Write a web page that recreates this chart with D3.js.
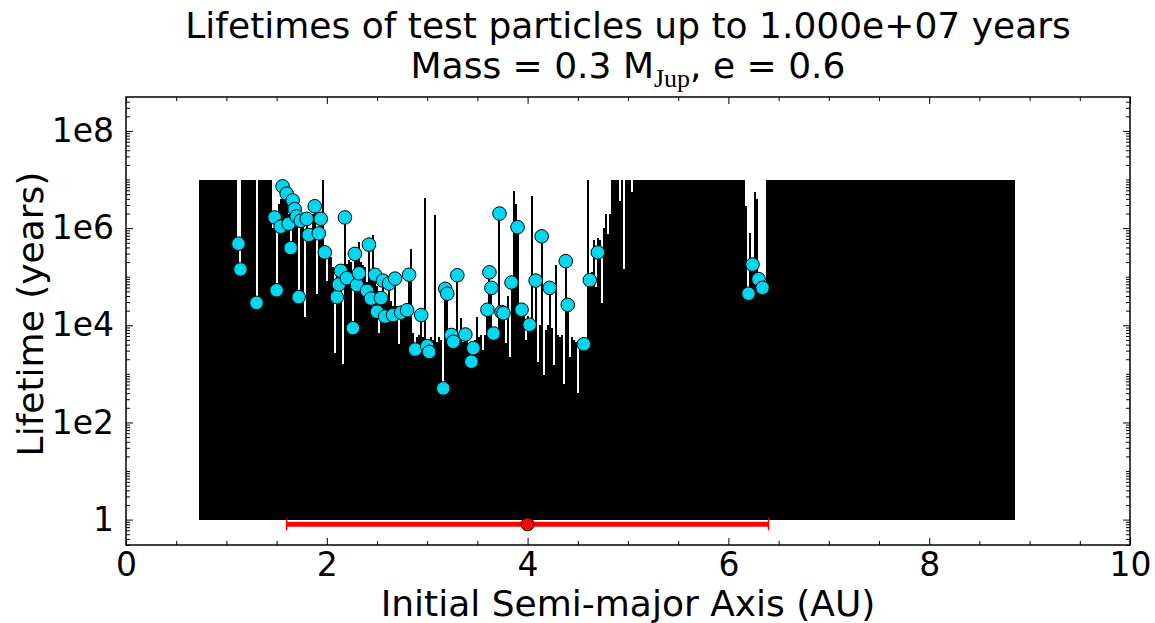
<!DOCTYPE html>
<html>
<head>
<meta charset="utf-8">
<script src="https://cdn.jsdelivr.net/npm/d3@7/dist/d3.min.js"></script>
<style>
  html, body { margin: 0; padding: 0; background: #fff; }
  svg { display: block; font-family: "DejaVu Sans", sans-serif; }
</style>
</head>
<body>
<div id="chart"></div>
<script>
// test particle grid (initial semi-major axis, AU) and integration length
const aMin = 0.74, aMax = 8.84, aStep = 0.02;
const tEnd = 1e7;

// log10 lifetime of every particle in the unstable zone, from chaosStart upwards
const chaosStart = 1.46;
const chaosLogT = [
  6.0, 6.22, 4.72, 6.5, 6.6, 6.86, 6.7, 6.71, 6.3, 5.59,
  6.57, 6.39, 6.24, 4.58, 6.15, 6.1, 4.17, 6.19, 5.86, 6.0,
  6.3, 6.45, 4.65, 5.89, 6.19, 7.0, 5.5, 4.92, 5.6, 5.4,
  5.2, 3.42, 5.1, 5.15, 5.12, 3.21, 6.22, 5.27, 5.35, 5.3,
  3.94, 5.47, 5.4, 5.72, 5.3, 5.25, 5.2, 4.9, 5.66, 5.0,
  5.85, 5.04, 4.8, 3.85, 4.7, 4.92, 4.6, 4.55, 4.86, 4.5,
  4.4, 4.96, 4.4, 3.62, 4.3, 4.25, 4.2, 4.31, 5.04, 5.56,
  3.85, 3.6, 3.75, 3.8, 4.21, 3.75, 6.63, 3.7, 3.6, 3.75,
  3.7, 6.26, 3.65, 3.75, 3.7, 2.70, 3.7, 3.75, 3.7, 3.8,
  3.7, 3.65, 5.03, 3.7, 4.14, 3.65, 3.81, 3.7, 3.6, 3.65,
  3.53, 3.7, 4.17, 3.75, 3.8, 3.5, 3.8, 4.32, 5.09, 4.77,
  3.83, 3.8, 3.75, 6.30, 4.27, 4.25, 3.64, 4.6, 3.34, 4.88,
  6.77, 6.5, 6.02, 4.4, 4.32, 4.3, 3.69, 4.2, 4.01, 6.67,
  4.1, 4.92, 3.25, 4.0, 5.83, 2.97, 3.9, 4.0, 4.77, 3.95,
  3.18, 5.25, 3.8, 3.75, 3.8, 2.80, 5.32, 4.42, 3.35, 3.75,
  3.7, 3.65, 2.60, 3.6, 3.55, 3.61, 3.6, 7.0, 5.0, 5.1,
  5.75, 4.79, 5.8, 5.75, 4.45, 6.0, 6.3, 5.88, 6.3, 7.0,
  7.0, 7.0, 7.0, 6.55, 7.0, 5.15, 7.0, 7.0, 7.0, 6.75,
  7.0
];

// lost particles outside that zone (all others survive to tEnd)
const lostA    = [1.12, 1.14, 1.30, 6.18, 6.20, 6.22, 6.24, 6.26, 6.28, 6.30, 6.32, 6.34, 6.36];
const lostLogT = [5.68, 5.15, 4.46, 6.45, 4.65, 5.9, 5.25, 6.75, 6.6, 4.95, 4.85, 4.77, 4.8];

// ejected particles (cyan markers)
const ejectA = [
  1.12, 1.14, 1.30, 1.48, 1.50, 1.54, 1.56, 1.60, 1.62, 1.64,
  1.66, 1.68, 1.70, 1.72, 1.74, 1.80, 1.82, 1.88, 1.92, 1.94,
  1.98, 2.10, 2.12, 2.14, 2.18, 2.20, 2.26, 2.28, 2.30, 2.32,
  2.40, 2.42, 2.44, 2.48, 2.50, 2.54, 2.56, 2.58, 2.62, 2.66,
  2.68, 2.74, 2.80, 2.82, 2.88, 2.94, 3.00, 3.02, 3.16, 3.18,
  3.20, 3.24, 3.26, 3.30, 3.38, 3.44, 3.46, 3.60, 3.62, 3.64,
  3.66, 3.72, 3.74, 3.76, 3.84, 3.90, 3.94, 4.02, 4.08, 4.14,
  4.22, 4.38, 4.40, 4.56, 4.62, 4.70, 6.20, 6.24, 6.30, 6.34
];
const ejectLogT = [
  5.68, 5.15, 4.46, 6.22, 4.72, 6.03, 6.86, 6.71, 6.09, 5.59,
  6.57, 6.39, 6.24, 4.58, 6.15, 6.19, 5.86, 6.45, 5.89, 6.19,
  5.50, 4.58, 4.84, 5.12, 6.22, 4.97, 3.94, 5.47, 4.83, 5.07,
  4.71, 5.66, 4.55, 5.04, 4.28, 4.56, 4.92, 4.18, 4.86, 4.21,
  4.96, 4.26, 4.31, 5.04, 3.50, 4.21, 3.57, 3.45, 2.70, 4.75,
  4.65, 3.80, 3.66, 5.03, 3.81, 3.25, 3.53, 4.32, 5.09, 4.77,
  3.83, 6.30, 4.27, 4.25, 4.88, 6.02, 4.32, 4.01, 4.92, 5.83,
  4.77, 5.32, 4.42, 3.61, 4.93, 5.50, 4.65, 5.25, 4.95, 4.77
];

// planet: a, e -> pericentre/apocentre bar
const planetA = 4.0, planetE = 0.6, planetMarkT = 0.8;

const xTicks = [0, 2, 4, 6, 8, 10];
const yTicks = [1, 1e2, 1e4, 1e6, 1e8];
const yTickLabels = ["1", "1e2", "1e4", "1e6", "1e8"];

const width = 1155, height = 623;
const margin = { top: 97, right: 25, bottom: 78, left: 126 };

const x = d3.scaleLinear().domain([0, 10]).range([margin.left, width - margin.right]);
const y = d3.scaleLog().domain([0.3, 5e8]).range([height - margin.bottom, margin.top]);

// build per-particle lifetimes on the grid
const nGrid = Math.round((aMax - aMin) / aStep) + 1;
const idx = (a) => Math.round((a - aMin) / aStep);
const logT = new Array(nGrid).fill(Math.log10(tEnd));
chaosLogT.forEach((v, i) => { logT[idx(chaosStart) + i] = v; });
lostA.forEach((a, i) => { logT[idx(a)] = lostLogT[i]; });
ejectA.forEach((a, i) => { const k = idx(a); logT[k] = Math.max(logT[k], ejectLogT[i]); });
const particles = logT.map((v, k) => ({ a: aMin + k * aStep, t: Math.pow(10, v) }));

const svg = d3.select("#chart").append("svg")
  .attr("width", width).attr("height", height)
  .attr("viewBox", `0 0 ${width} ${height}`);

// lifetime bars
svg.append("g")
  .attr("shape-rendering", "crispEdges")
  .selectAll("rect")
  .data(particles)
  .join("rect")
  .attr("x", (d) => x(d.a - aStep / 2))
  .attr("width", (d) => x(d.a + aStep / 2) - x(d.a - aStep / 2))
  .attr("y", (d) => y(d.t))
  .attr("height", (d) => y(1) - y(d.t))
  .attr("fill", "#000");

// ejected markers
svg.append("g")
  .selectAll("circle")
  .data(ejectA.map((a, i) => ({ a, t: Math.pow(10, ejectLogT[i]) })))
  .join("circle")
  .attr("cx", (d) => x(d.a))
  .attr("cy", (d) => y(d.t))
  .attr("r", 6.8)
  .attr("fill", "#00d7f0")
  .attr("stroke", "#000")
  .attr("stroke-width", 1);

// planet range q..Q
const q = planetA * (1 - planetE), Q = planetA * (1 + planetE);
const py = y(planetMarkT);
const pg = svg.append("g");
pg.append("line")
  .attr("x1", x(q)).attr("x2", x(Q)).attr("y1", py).attr("y2", py)
  .attr("stroke", "#ff0000").attr("stroke-width", 5);
[q, Q].forEach((v) => {
  pg.append("line")
    .attr("x1", x(v)).attr("x2", x(v)).attr("y1", py - 6).attr("y2", py + 6)
    .attr("stroke", "#ff0000").attr("stroke-width", 1.5);
});
pg.append("circle")
  .attr("cx", x(planetA)).attr("cy", py).attr("r", 6.5)
  .attr("fill", "#ff0000").attr("stroke", "#000").attr("stroke-width", 1);

// axes (ticks inside, on all four sides)
const x0 = margin.left, x1 = width - margin.right;
const y0 = margin.top, y1 = height - margin.bottom;
const xMinor = d3.range(0.5, 10, 0.5).filter((v) => v % 2 !== 0);
const yMinor = [];
for (let d = -1; d <= 8; d++) {
  for (let m = 1; m <= 9; m++) {
    const v = m * Math.pow(10, d);
    if (m === 1 && d % 2 === 0) continue;
    if (v > 0.3 && v < 5e8) yMinor.push(v);
  }
}

const tickFont = 33;
function styleAxis(g) {
  g.select(".domain").remove();
  g.selectAll(".tick line").attr("stroke", "#000").attr("stroke-width", 1);
  g.selectAll(".tick text").style("font-size", tickFont + "px").attr("fill", "#000")
    .style("font-family", "'DejaVu Sans', sans-serif");
}

svg.append("g").attr("transform", `translate(0,${y1})`)
  .call(d3.axisBottom(x).tickValues(xTicks).tickFormat(d3.format("d")).tickSizeInner(-7).tickSizeOuter(0).tickPadding(8))
  .call(styleAxis);
svg.append("g").attr("transform", `translate(0,${y1})`)
  .call(d3.axisBottom(x).tickValues(xMinor).tickFormat("").tickSizeInner(-4).tickSizeOuter(0))
  .call(styleAxis);
svg.append("g").attr("transform", `translate(0,${y0})`)
  .call(d3.axisTop(x).tickValues(xTicks).tickFormat("").tickSizeInner(-7).tickSizeOuter(0))
  .call(styleAxis);
svg.append("g").attr("transform", `translate(0,${y0})`)
  .call(d3.axisTop(x).tickValues(xMinor).tickFormat("").tickSizeInner(-4).tickSizeOuter(0))
  .call(styleAxis);

svg.append("g").attr("transform", `translate(${x0},0)`)
  .call(d3.axisLeft(y).tickValues(yTicks).tickFormat((d, i) => yTickLabels[i]).tickSizeInner(-7).tickSizeOuter(0).tickPadding(12))
  .call(styleAxis);
svg.append("g").attr("transform", `translate(${x0},0)`)
  .call(d3.axisLeft(y).tickValues(yMinor).tickFormat("").tickSizeInner(-4).tickSizeOuter(0))
  .call(styleAxis);
svg.append("g").attr("transform", `translate(${x1},0)`)
  .call(d3.axisRight(y).tickValues(yTicks).tickFormat("").tickSizeInner(-7).tickSizeOuter(0))
  .call(styleAxis);
svg.append("g").attr("transform", `translate(${x1},0)`)
  .call(d3.axisRight(y).tickValues(yMinor).tickFormat("").tickSizeInner(-4).tickSizeOuter(0))
  .call(styleAxis);

// frame
svg.append("rect")
  .attr("x", x0).attr("y", y0).attr("width", x1 - x0).attr("height", y1 - y0)
  .attr("fill", "none").attr("stroke", "#000").attr("stroke-width", 1.5);

// labels
const cx = (x0 + x1) / 2;
svg.append("text")
  .attr("x", cx).attr("y", 616).attr("text-anchor", "middle")
  .style("font-size", "36px").text("Initial Semi-major Axis (AU)");
svg.append("text")
  .attr("transform", `translate(43,314) rotate(-90)`)
  .attr("text-anchor", "middle")
  .style("font-size", "36px").text("Lifetime (years)");

// title
svg.append("text")
  .attr("x", cx).attr("y", 38).attr("text-anchor", "middle")
  .style("font-size", "36px")
  .text("Lifetimes of test particles up to 1.000e+07 years");
const t2 = svg.append("text")
  .attr("x", cx).attr("y", 78).attr("text-anchor", "middle")
  .style("font-size", "36px");
t2.append("tspan").text("Mass = 0.3 M");
t2.append("tspan").attr("dy", 9)
  .style("font-family", "'Liberation Serif', serif").style("font-size", "26px").text("Jup");
t2.append("tspan").attr("dy", -9).text(", e = 0.6");
</script>
</body>
</html>
